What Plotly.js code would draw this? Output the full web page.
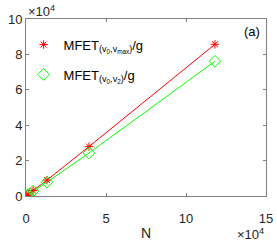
<!DOCTYPE html>
<html><head><meta charset="utf-8">
<script src="https://cdn.plot.ly/plotly-3.0.1.min.js"></script>
<style>body{margin:0;padding:0;background:#fff}</style>
</head><body>
<div id="chart" style="width:277px;height:241px"></div>
<script>
const N = [486, 1458, 4374, 13122, 39366, 118098];
const mfetMax = [350, 1050, 3100, 9000, 27900, 85700];
const mfetV2 = [310, 930, 2750, 7800, 24300, 76100];
const xTicks = [0, 50000, 100000, 150000];
const xTickText = ['0', '5', '10', '15'];
const yTicks = [0, 20000, 40000, 60000, 80000, 100000];
const yTickText = ['0', '2', '4', '6', '8', '10'];
const nameMax = 'MFET<sub>(v<sub>0</sub>,v<sub>max</sub>)</sub>/g';
const nameV2 = 'MFET<sub>(v<sub>0</sub>,v<sub>2</sub>)</sub>/g';

const red = '#ff0000', green = '#00ff00';
const traces = [
  {x: N, y: mfetMax, mode: 'lines', line: {color: red, width: 1}, showlegend: false, hoverinfo: 'skip'},
  {x: N, y: mfetV2, mode: 'lines', line: {color: green, width: 1}, showlegend: false, hoverinfo: 'skip'},
  {x: N, y: mfetMax, mode: 'markers', name: nameMax, legendgroup: 'a',
   marker: {symbol: 'asterisk-open', size: 7, color: red, line: {color: red, width: 1}}},
  {x: N, y: mfetV2, mode: 'markers', name: nameV2, legendgroup: 'b',
   marker: {symbol: 'diamond-open', size: 9, color: green, line: {color: green, width: 1}}}
];
const axisCol = '#808080';
const font = {family: 'Liberation Sans, Arial, sans-serif', size: 13, color: '#262626'};
const layout = {
  width: 277, height: 241,
  margin: {l: 26, r: 11, t: 19, b: 45},
  paper_bgcolor: '#fff', plot_bgcolor: '#fff',
  font: font,
  showlegend: true,
  legend: {x: -0.01, y: 0.94, xanchor: 'left', yanchor: 'top', bgcolor: 'rgba(0,0,0,0)',
           traceorder: 'grouped', tracegroupgap: 10,
           font: {family: font.family, size: 13, color: '#000'}},
  xaxis: {range: [0, 150000], tickvals: xTicks, ticktext: xTickText, ticks: 'inside', ticklen: 3,
          tickcolor: axisCol, showline: true, linecolor: axisCol, linewidth: 1, mirror: 'ticks',
          showgrid: false, zeroline: false, tickfont: {size: 13, color: '#262626'},
          ticklabelstandoff: 10,
          title: {text: 'N', font: {size: 14, color: '#262626'}, standoff: 9}},
  yaxis: {range: [0, 100000], tickvals: yTicks, ticktext: yTickText, ticks: 'inside', ticklen: 3,
          tickcolor: axisCol, showline: true, linecolor: axisCol, linewidth: 1, mirror: 'ticks',
          showgrid: false, zeroline: false, tickfont: {size: 13, color: '#262626'}},
  annotations: [
    {text: '(a)', xref: 'paper', yref: 'paper', x: 0.985, y: 0.985, xanchor: 'right', yanchor: 'top',
     showarrow: false, font: {size: 13, color: '#000'}},
    {text: '×10<sup>4</sup>', xref: 'paper', yref: 'paper', x: 0, y: 1, xanchor: 'left', yanchor: 'bottom',
     showarrow: false, font: {size: 13, color: '#262626'}, yshift: -2},
    {text: '×10<sup>4</sup>', xref: 'paper', yref: 'paper', x: 1, y: 0, xanchor: 'right', yanchor: 'top',
     showarrow: false, font: {size: 13, color: '#262626'}, yshift: -28}
  ]
};
Plotly.newPlot('chart', traces, layout, {displayModeBar: false, staticPlot: true});
</script>
</body></html>
